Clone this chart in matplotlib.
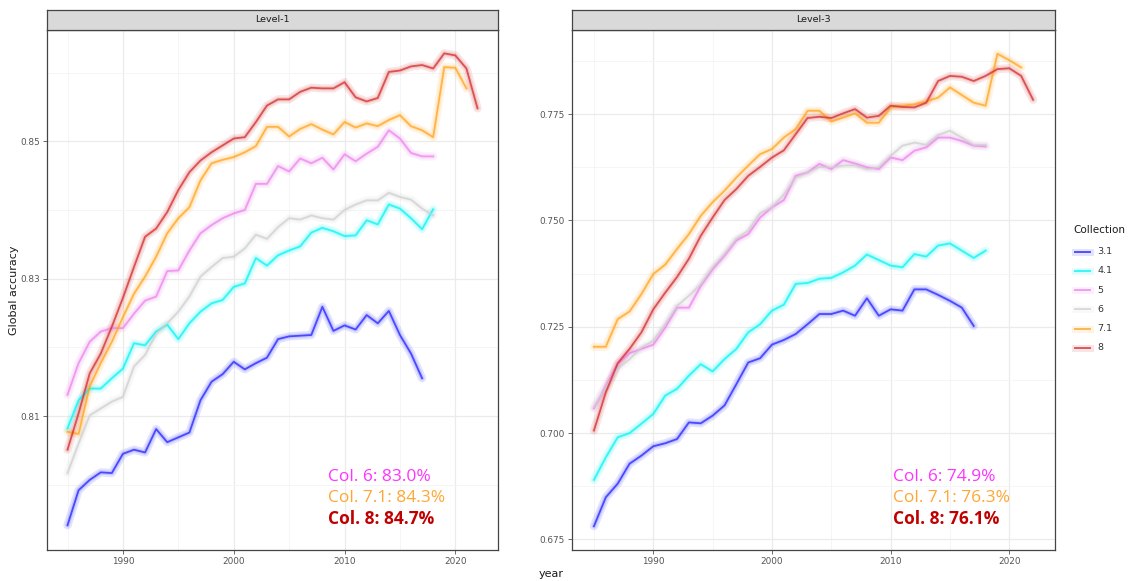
import matplotlib
matplotlib.use("Agg")
import matplotlib.pyplot as plt
from matplotlib.lines import Line2D
import numpy as np

years = list(range(1985, 2023))

# ---- Level-1 ----
l1_c31 = [0.7941, 0.7992, 0.8007, 0.8018, 0.8017, 0.8045, 0.8051, 0.8047, 0.8081, 0.8062,
          0.8069, 0.8076, 0.8123, 0.8150, 0.8161, 0.8179, 0.8168, 0.8177, 0.8185, 0.8212,
          0.8216, 0.8217, 0.8218, 0.8259, 0.8224, 0.8232, 0.8226, 0.8247, 0.8235, 0.8253,
          0.8218, 0.8191, 0.8155]
l1_c41 = [0.8082, 0.8123, 0.8140, 0.8140, 0.8155, 0.8169, 0.8206, 0.8203, 0.8223, 0.8233,
          0.8212, 0.8235, 0.8252, 0.8264, 0.8269, 0.8288, 0.8293, 0.8330, 0.8319, 0.8334,
          0.8341, 0.8347, 0.8367, 0.8374, 0.8369, 0.8362, 0.8363, 0.8385, 0.8379, 0.8408,
          0.8402, 0.8388, 0.8372, 0.8401]
l1_c5 = [0.8131, 0.8177, 0.8208, 0.8223, 0.8228, 0.8228, 0.8249, 0.8268, 0.8274, 0.8311,
         0.8312, 0.8341, 0.8366, 0.8378, 0.8388, 0.8395, 0.8400, 0.8438, 0.8438, 0.8464,
         0.8456, 0.8475, 0.8468, 0.8476, 0.8459, 0.8481, 0.8471, 0.8482, 0.8492, 0.8516,
         0.8504, 0.8483, 0.8478, 0.8478]
l1_c6 = [0.8017, 0.8060, 0.8101, 0.8111, 0.8121, 0.8128, 0.8172, 0.8189, 0.8220, 0.8235,
         0.8252, 0.8274, 0.8303, 0.8317, 0.8330, 0.8332, 0.8344, 0.8364, 0.8358, 0.8375,
         0.8388, 0.8386, 0.8392, 0.8388, 0.8386, 0.8400, 0.8408, 0.8414, 0.8414, 0.8425,
         0.8419, 0.8415, 0.8402, 0.8392]
l1_c71 = [0.8077, 0.8074, 0.8143, 0.8177, 0.8208, 0.8244, 0.8278, 0.8303, 0.8332, 0.8366,
          0.8388, 0.8404, 0.8443, 0.8468, 0.8473, 0.8477, 0.8484, 0.8493, 0.8521, 0.8521,
          0.8507, 0.8518, 0.8525, 0.8517, 0.8510, 0.8528, 0.8520, 0.8526, 0.8522, 0.8531,
          0.8538, 0.8522, 0.8516, 0.8506, 0.8608, 0.8607, 0.8577]
l1_c8 = [0.8051, 0.8104, 0.8162, 0.8191, 0.8230, 0.8272, 0.8317, 0.8361, 0.8373, 0.8397,
         0.8429, 0.8455, 0.8472, 0.8484, 0.8494, 0.8504, 0.8506, 0.8528, 0.8552, 0.8561,
         0.8561, 0.8572, 0.8578, 0.8577, 0.8577, 0.8586, 0.8564, 0.8558, 0.8563, 0.8601,
         0.8603, 0.8609, 0.8611, 0.8606, 0.8628, 0.8625, 0.8606, 0.8548]

# ---- Level-3 ----
l3_c31 = [0.6781, 0.6849, 0.6881, 0.6928, 0.6947, 0.6969, 0.6976, 0.6986, 0.7025, 0.7023,
          0.7041, 0.7065, 0.7115, 0.7166, 0.7176, 0.7208, 0.7219, 0.7233, 0.7256, 0.7280,
          0.7280, 0.7288, 0.7276, 0.7317, 0.7276, 0.7291, 0.7288, 0.7338, 0.7338, 0.7325,
          0.7311, 0.7295, 0.7252]
l3_c41 = [0.6890, 0.6943, 0.6990, 0.7000, 0.7022, 0.7045, 0.7088, 0.7104, 0.7135, 0.7162,
          0.7145, 0.7174, 0.7198, 0.7237, 0.7256, 0.7288, 0.7302, 0.7351, 0.7353, 0.7363,
          0.7365, 0.7378, 0.7394, 0.7420, 0.7407, 0.7394, 0.7390, 0.7421, 0.7415, 0.7441,
          0.7446, 0.7429, 0.7412, 0.7429]
l3_c5 = [0.7058, 0.7110, 0.7162, 0.7188, 0.7198, 0.7208, 0.7248, 0.7295, 0.7295, 0.7346,
         0.7385, 0.7417, 0.7453, 0.7468, 0.7507, 0.7531, 0.7548, 0.7605, 0.7613, 0.7633,
         0.7621, 0.7642, 0.7634, 0.7625, 0.7621, 0.7648, 0.7642, 0.7664, 0.7672, 0.7695,
         0.7695, 0.7687, 0.7676, 0.7674]
l3_c6 = [0.7061, 0.7108, 0.7151, 0.7174, 0.7201, 0.7217, 0.7256, 0.7299, 0.7323, 0.7350,
         0.7390, 0.7421, 0.7457, 0.7476, 0.7517, 0.7531, 0.7561, 0.7601, 0.7613, 0.7626,
         0.7625, 0.7629, 0.7630, 0.7621, 0.7625, 0.7652, 0.7676, 0.7683, 0.7678, 0.7701,
         0.7711, 0.7695, 0.7677, 0.7678]
l3_c71 = [0.7203, 0.7203, 0.7268, 0.7286, 0.7327, 0.7374, 0.7396, 0.7433, 0.7468, 0.7511,
          0.7543, 0.7570, 0.7601, 0.7629, 0.7656, 0.7668, 0.7695, 0.7715, 0.7758, 0.7758,
          0.7733, 0.7742, 0.7752, 0.7730, 0.7730, 0.7766, 0.7770, 0.7773, 0.7780, 0.7789,
          0.7813, 0.7795, 0.7777, 0.7770, 0.7892, 0.7877, 0.7860]
l3_c8 = [0.7006, 0.7096, 0.7164, 0.7198, 0.7237, 0.7291, 0.7330, 0.7367, 0.7410, 0.7464,
         0.7507, 0.7548, 0.7574, 0.7605, 0.7626, 0.7648, 0.7665, 0.7703, 0.7741, 0.7744,
         0.7741, 0.7752, 0.7762, 0.7742, 0.7746, 0.7770, 0.7767, 0.7766, 0.7777, 0.7828,
         0.7840, 0.7838, 0.7828, 0.7840, 0.7856, 0.7858, 0.7840, 0.7784]

collections = ["3.1", "4.1", "5", "6", "7.1", "8"]
colors = ["#2020ff", "#00f5f5", "#ee82ee", "#cfcfcf", "#ffa31a", "#d42a2a"]

l1_notes = ["Col. 6: 83.0%", "Col. 7.1: 84.3%", "Col. 8: 84.7%"]
l3_notes = ["Col. 6: 74.9%", "Col. 7.1: 76.3%", "Col. 8: 76.1%"]
note_colors = ["#ff33ff", "#ffa733", "#c00000"]
note_weights = ["normal", "normal", "bold"]

W, H = 1128, 581
fig = plt.figure(figsize=(W / 100, H / 100), dpi=100)
fig.patch.set_facecolor("white")


def px_axes(x0, y0, x1, y1):
    return fig.add_axes([x0 / W, 1 - y1 / H, (x1 - x0) / W, (y1 - y0) / H])


def draw_panel(ax, series, title, ylim, major, minor, fmt, notes, note_x):
    ax.set_xlim(1983.15, 2023.85)
    ax.set_ylim(*ylim)
    ax.set_xticks([1990, 2000, 2010, 2020])
    ax.set_xticks([1985, 1995, 2005, 2015], minor=True)
    ax.set_yticks(major)
    ax.set_yticks(minor, minor=True)
    ax.set_yticklabels([fmt.format(v) for v in major])
    ax.grid(True, which="major", color="#ebebeb", lw=0.9, zorder=0)
    ax.grid(True, which="minor", color="#f4f4f4", lw=0.6, zorder=0)
    ax.tick_params(which="major", length=3, width=0.6, color="#555555",
                   labelsize=6.4, labelcolor="#555555", pad=2)
    ax.tick_params(which="minor", length=0)
    for s in ax.spines.values():
        s.set_color("#444444")
        s.set_linewidth(0.9)
    for vals, c in zip(series, colors):
        x = years[:len(vals)]
        ax.plot(x, vals, color=c, lw=6, alpha=0.12, solid_capstyle="round", zorder=2)
        ax.plot(x, vals, color=c, lw=3.2, alpha=0.15, solid_capstyle="round", zorder=2)
        ax.plot(x, vals, color=c, lw=1.3, alpha=0.75, zorder=3)
    ys = [0.140, 0.100, 0.0596]
    for t, c, w, yy in zip(notes, note_colors, note_weights, ys):
        ax.text(note_x, yy, t, transform=ax.transAxes, color=c, fontsize=12.5,
                fontweight=w, family="Open Sans", va="center", ha="left", zorder=5)
    # strip
    pos = ax.get_position()
    sax = fig.add_axes([pos.x0, pos.y1, pos.width, 20 / H])
    sax.set_facecolor("#d9d9d9")
    sax.set_xticks([])
    sax.set_yticks([])
    for s in sax.spines.values():
        s.set_color("#444444")
        s.set_linewidth(0.9)
    sax.text(0.5, 0.5, title, ha="center", va="center", fontsize=6.8, color="#1a1a1a")


ax1 = px_axes(47, 30, 498, 550)
draw_panel(ax1, [l1_c31, l1_c41, l1_c5, l1_c6, l1_c71, l1_c8], "Level-1",
           (0.7905, 0.8662), [0.81, 0.83, 0.85], [0.80, 0.82, 0.84, 0.86],
           "{:.2f}", l1_notes, 0.623)
ax2 = px_axes(572, 30, 1055, 550)
draw_panel(ax2, [l3_c31, l3_c41, l3_c5, l3_c6, l3_c71, l3_c8], "Level-3",
           (0.6725, 0.7948), [0.675, 0.700, 0.725, 0.750, 0.775],
           [0.6875, 0.7125, 0.7375, 0.7625, 0.7875], "{:.3f}", l3_notes, 0.665)

fig.text(14 / W, 1 - 290 / H, "Global accuracy", rotation=90, ha="center",
         va="center", fontsize=8, color="#1a1a1a")
fig.text(551 / W, 1 - 574 / H, "year", ha="center", va="center", fontsize=8,
         color="#1a1a1a")

# legend (drawn in figure pixel layout)
fig.text(1073 / W, 1 - 230 / H, "Collection", ha="left", va="center",
         fontsize=7.5, color="#1a1a1a")
for i, (lab, c) in enumerate(zip(collections, colors)):
    yy = 1 - (251.7 + i * 19.2) / H
    fig.add_artist(Line2D([1075 / W, 1090 / W], [yy, yy], color=c, lw=5,
                          alpha=0.12, transform=fig.transFigure))
    fig.add_artist(Line2D([1075 / W, 1090 / W], [yy, yy], color=c, lw=1.4,
                          alpha=0.75, transform=fig.transFigure))
    fig.text(1097 / W, yy, lab, ha="left", va="center", fontsize=6.8,
             color="#333333")

fig.savefig("out.png", dpi=100)
